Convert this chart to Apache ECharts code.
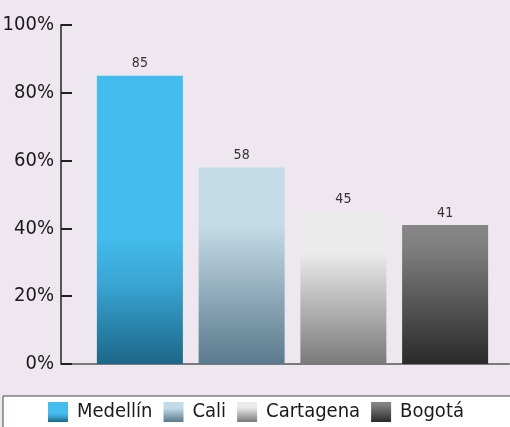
<!DOCTYPE html>
<html><head><meta charset="utf-8">
<script src="https://cdn.jsdelivr.net/npm/echarts@6/dist/echarts.min.js"></script>
<style>html,body{margin:0;padding:0;background:#eee7ef;}#c{width:510px;height:427px;}</style>
</head><body><div id="c"></div>
<script>
var categories = ['Medellín', 'Cali', 'Cartagena', 'Bogotá'];
var values = [85, 58, 45, 41];
var yTicks = [0, 20, 40, 60, 80, 100];
var gradients = [
  [['#44bdee', 0], ['#44bdee', 0.55], ['#3aa5d4', 0.72], ['#1c6788', 1]],
  [['#c3dbe6', 0], ['#c3dbe6', 0.3], ['#5b7a8e', 1]],
  [['#ebebeb', 0], ['#ebebeb', 0.27], ['#7a7a7a', 1]],
  [['#868686', 0], ['#808080', 0.15], ['#2a2a2a', 1]]
];
var FONT = '"Liberation Sans Narrow", "DejaVu Sans Condensed", sans-serif';
function grad(g) {
  return new echarts.graphic.LinearGradient(0, 0, 0, 1, g.map(function (s) { return { offset: s[1], color: s[0] }; }));
}
var series = categories.map(function (name, i) {
  return {
    name: name, type: 'bar', xAxisIndex: 0, yAxisIndex: 0,
    barWidth: 86, barGap: '-100%',
    itemStyle: { color: grad(gradients[i]) },
    label: { show: true, position: 'top', distance: 5, color: '#333', fontSize: 14, fontFamily: FONT },
    data: values.map(function (v, j) { return j === i ? v : null; })
  };
});
var chart = echarts.init(document.getElementById('c'));
chart.setOption({
  backgroundColor: '#eee7ef',
  animation: false,
  grid: [
    { left: 89, right: 14, top: 25, bottom: 63, outerBoundsMode: 'none' },
    { left: 61, right: 1, top: 25, bottom: 63, outerBoundsMode: 'none' }
  ],
  xAxis: [
    { type: 'category', gridIndex: 0, data: categories, show: false },
    { type: 'value', gridIndex: 1, min: 0, max: 1,
      axisLine: { show: true, lineStyle: { color: '#7a7a7a', width: 2 } },
      axisTick: { show: false }, axisLabel: { show: false }, splitLine: { show: false } }
  ],
  yAxis: [
    { type: 'value', gridIndex: 0, min: yTicks[0], max: yTicks[yTicks.length - 1], interval: 20, show: false },
    { type: 'value', gridIndex: 1, min: yTicks[0], max: yTicks[yTicks.length - 1], interval: 20,
      axisLine: { show: true, lineStyle: { color: '#555', width: 2 } },
      axisTick: { show: true, inside: true, length: 11, lineStyle: { color: '#222', width: 2 } },
      axisLabel: { formatter: '{value}%', color: '#1a1a1a', fontSize: 20, fontFamily: FONT, margin: 7 },
      splitLine: { show: false } }
  ],
  legend: {
    data: categories,
    left: 3, top: 396, width: 500,
    padding: [6, 80, 20, 45],
    backgroundColor: '#ffffff',
    borderColor: '#444', borderWidth: 1,
    icon: 'rect',
    itemWidth: 20, itemHeight: 20, itemGap: 11,
    textStyle: { fontSize: 20, fontFamily: FONT, color: '#1a1a1a', padding: [0, 0, 0, 4] }
  },
  series: series
});
</script></body></html>
